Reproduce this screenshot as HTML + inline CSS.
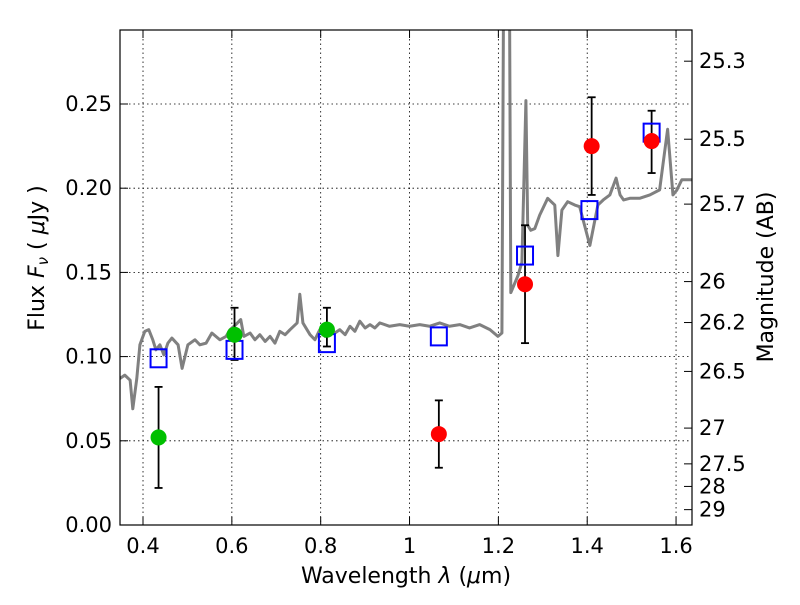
<!DOCTYPE html>
<html><head><meta charset="utf-8"><style>
body{margin:0;background:#fff}
svg text{font-family:"DejaVu Sans","Liberation Sans",sans-serif;fill:#000}
</style></head><body>
<svg id="chart" width="800" height="600" viewBox="0 0 800 600">
<rect width="800" height="600" fill="#fff"/>
<defs><clipPath id="clip"><rect x="120" y="30" width="572" height="495"/></clipPath></defs>
<g id="grid"></g>
<g id="plot" clip-path="url(#clip)"></g>
<rect x="120" y="30" width="572" height="495" fill="none" stroke="#000" stroke-width="1.2"/>
<g id="axes"></g>
<text x="406" y="583" text-anchor="middle" font-size="22">Wavelength  <tspan font-style="italic">λ</tspan> (<tspan font-style="italic">μ</tspan>m)</text>
<text transform="translate(44,258) rotate(-90)" text-anchor="middle" font-size="22">Flux  <tspan font-style="italic">F<tspan font-size="15" dy="4">ν</tspan></tspan><tspan dy="-4">  (  </tspan><tspan font-style="italic">μ</tspan>Jy )</text>
<text transform="translate(773,277) rotate(-90)" text-anchor="middle" font-size="22">Magnitude (AB)</text>
</svg>
<script>
const NS="http://www.w3.org/2000/svg";
const specW=[0.348,0.359,0.371,0.377,0.386,0.393,0.404,0.413,0.422,0.429,0.438,0.447,0.456,0.465,0.479,0.488,0.501,0.517,0.528,0.542,0.555,0.573,0.587,0.596,0.609,0.620,0.627,0.641,0.652,0.663,0.675,0.686,0.697,0.708,0.720,0.731,0.747,0.753,0.760,0.776,0.787,0.798,0.810,0.821,0.832,0.843,0.855,0.866,0.877,0.888,0.900,0.911,0.922,0.933,0.955,0.978,1.000,1.023,1.045,1.068,1.090,1.113,1.135,1.158,1.181,1.199,1.208,1.215,1.222,1.228,1.244,1.253,1.262,1.266,1.273,1.282,1.293,1.311,1.327,1.334,1.343,1.356,1.372,1.383,1.406,1.424,1.436,1.451,1.465,1.474,1.482,1.496,1.518,1.541,1.563,1.581,1.593,1.602,1.613,1.636];
const specF=[0.087,0.089,0.086,0.069,0.087,0.107,0.115,0.116,0.110,0.104,0.107,0.101,0.108,0.111,0.107,0.093,0.107,0.110,0.107,0.108,0.114,0.110,0.112,0.116,0.119,0.122,0.112,0.114,0.110,0.113,0.109,0.112,0.108,0.115,0.113,0.116,0.120,0.137,0.120,0.113,0.110,0.116,0.112,0.118,0.114,0.116,0.113,0.118,0.115,0.121,0.117,0.119,0.117,0.120,0.118,0.119,0.118,0.119,0.118,0.120,0.118,0.119,0.117,0.119,0.116,0.112,0.114,0.5,0.5,0.138,0.148,0.156,0.252,0.178,0.175,0.176,0.184,0.194,0.190,0.160,0.187,0.192,0.190,0.189,0.166,0.190,0.193,0.196,0.206,0.196,0.193,0.194,0.194,0.196,0.199,0.235,0.196,0.199,0.205,0.205];
const photW=[0.435,0.606,0.814,1.066,1.26,1.41,1.545];
const photF=[0.052,0.113,0.116,0.054,0.143,0.225,0.228];
const photLo=[0.022,0.098,0.106,0.034,0.108,0.196,0.209];
const photHi=[0.082,0.129,0.129,0.074,0.178,0.254,0.246];
const photColor=["#00c000","#00c000","#00c000","#ff0000","#ff0000","#ff0000","#ff0000"];
const modelW=[0.435,0.606,0.814,1.066,1.26,1.405,1.545];
const modelF=[0.099,0.104,0.108,0.112,0.160,0.187,0.233];
const xTicks=[0.4,0.6,0.8,1.0,1.2,1.4,1.6];
const xTickLabels=["0.4","0.6","0.8","1","1.2","1.4","1.6"];
const yTicks=[0,0.05,0.10,0.15,0.20,0.25];
const yTickLabels=["0.00","0.05","0.10","0.15","0.20","0.25"];
const magTicks=[25.3,25.5,25.7,26,26.2,26.5,27,27.5,28,29];
const magLabels=["25.3","25.5","25.7","26","26.2","26.5","27","27.5","28","29"];
const X=w=>120.8+(w-0.35)*444.2;
const Y=f=>525-f*1684;
const mk=(t,a,p)=>{const e=document.createElementNS(NS,t);for(const k in a)e.setAttribute(k,a[k]);p.appendChild(e);return e;};
const grid=document.getElementById('grid'),plot=document.getElementById('plot'),axes=document.getElementById('axes');
xTicks.forEach((t,i)=>{
 const g=mk('line',{x1:X(t),x2:X(t),y1:30,y2:525,stroke:'#000','stroke-dasharray':'1.5,3','stroke-width':0.8},grid);
 
 
 mk('line',{x1:X(t),x2:X(t),y1:525,y2:517,stroke:'#000'},axes);
 mk('line',{x1:X(t),x2:X(t),y1:30,y2:38,stroke:'#000'},axes);
 const tx=mk('text',{x:X(t),y:553,'text-anchor':'middle','font-size':21},axes);
 tx.textContent=xTickLabels[i];
 
 
});
yTicks.forEach((t,i)=>{
 if(t>0){const g=mk('line',{x1:120,x2:692,y1:Y(t),y2:Y(t),stroke:'#000','stroke-dasharray':'1.5,3','stroke-width':0.8},grid);
 
 }
 mk('line',{x1:120,x2:128,y1:Y(t),y2:Y(t),stroke:'#000'},axes);
 const tx=mk('text',{x:112,y:Y(t)+7,'text-anchor':'end','font-size':21},axes);
 tx.textContent=yTickLabels[i];
 
 
});
magTicks.forEach((m,i)=>{
 const y=Y(Math.pow(10,(23.9-m)/2.5));
 mk('line',{x1:684,x2:692,y1:y,y2:y,stroke:'#000'},axes);
 const tx=mk('text',{x:699,y:y+7,'font-size':21},axes);
 tx.textContent=magLabels[i];
 
 
});
const line=mk('polyline',{points:specW.map((w,i)=>X(w)+','+Y(specF[i])).join(' '),fill:'none',stroke:'#808080','stroke-width':3,'stroke-linejoin':'round'},plot);


photW.forEach((w,i)=>{
 const x=X(w);
 const eb=mk('g',{stroke:'#000','stroke-width':1.8},plot);
 
 
 mk('line',{x1:x,x2:x,y1:Y(photLo[i]),y2:Y(photHi[i])},eb);
 mk('line',{x1:x-4,x2:x+4,y1:Y(photLo[i]),y2:Y(photLo[i])},eb);
 mk('line',{x1:x-4,x2:x+4,y1:Y(photHi[i]),y2:Y(photHi[i])},eb);
});
modelW.forEach((w,i)=>{
 const r=mk('rect',{x:X(w)-8,y:Y(modelF[i])-9,width:16,height:18,fill:'none',stroke:'#0000ff','stroke-width':2},plot);
 
 
});
photW.forEach((w,i)=>{
 const c=mk('circle',{cx:X(w),cy:Y(photF[i]),r:8,fill:photColor[i]},plot);
 
 
});
</script>
</body></html>
